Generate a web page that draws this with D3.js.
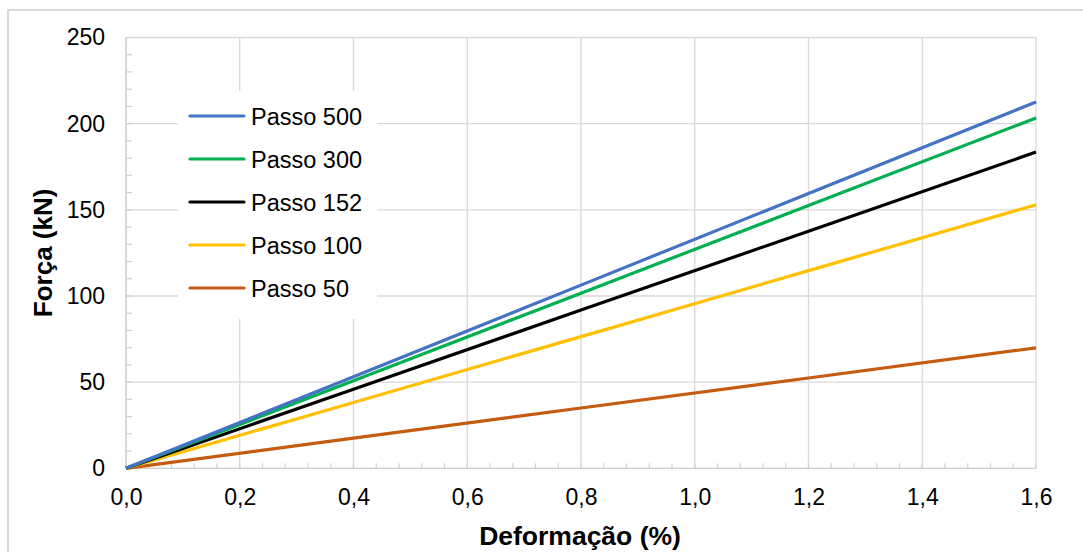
<!DOCTYPE html>
<html><head><meta charset="utf-8">
<script src="https://cdn.jsdelivr.net/npm/d3@7"></script>
<style>body{margin:0;background:#fff;} svg{display:block;font-family:"Liberation Sans",Arial,sans-serif;}</style>
</head><body>
<svg id="c" width="1083" height="552"></svg>
<script>
const deform = [0.0, 0.4, 0.8, 1.2, 1.6];
const passo500 = [0, 53.1, 106.3, 159.5, 212.6];
const passo300 = [0, 50.8, 101.6, 152.5, 203.3];
const passo152 = [0, 45.9, 91.8, 137.6, 183.5];
const passo100 = [0, 38.2, 76.4, 114.7, 152.9];
const passo50  = [0, 17.5, 35.0, 52.4, 69.9];
const seriesNames = ["Passo 500","Passo 300","Passo 152","Passo 100","Passo 50"];
const seriesColors = ["#4472C4","#00B050","#000000","#FFC000","#C55A11"];
const xTicks = [0,0.2,0.4,0.6,0.8,1.0,1.2,1.4,1.6];
const yTicks = [0,50,100,150,200,250];

const series = [passo500,passo300,passo152,passo100,passo50].map((v,i)=>({name:seriesNames[i],color:seriesColors[i],values:v}));

const svg = d3.select("#c");
const L=126,R=1036,T=37.5,B=468.3;
const x = d3.scaleLinear().domain([0,1.6]).range([L,R]);
const y = d3.scaleLinear().domain([0,250]).range([B,T]);

// outer border
svg.append("rect").attr("x",8).attr("y",10).attr("width",1090).attr("height",560)
  .attr("fill","none").attr("stroke","#D9D9D9").attr("stroke-width",2);

const grid = svg.append("g");
yTicks.forEach(t=>{
  grid.append("line").attr("x1",L).attr("x2",R).attr("y1",y(t)).attr("y2",y(t))
    .attr("stroke","#D9D9D9").attr("stroke-width",1.3);
});
xTicks.forEach(t=>{
  grid.append("line").attr("x1",x(t)).attr("x2",x(t)).attr("y1",T).attr("y2",B)
    .attr("stroke","#D9D9D9").attr("stroke-width",1.3);
});
d3.range(0,250,10).forEach(t=>{
  grid.append("line").attr("x1",L).attr("x2",L+6).attr("y1",y(t)).attr("y2",y(t))
    .attr("stroke","#D0D0D0").attr("stroke-width",1.2);
});
d3.range(0,1.6001,0.04).forEach(t=>{
  grid.append("line").attr("x1",x(t)).attr("x2",x(t)).attr("y1",B).attr("y2",B-5)
    .attr("stroke","#D0D0D0").attr("stroke-width",1.2);
});
svg.append("line").attr("x1",L).attr("x2",L).attr("y1",T).attr("y2",B).attr("stroke","#D0D0D0").attr("stroke-width",1.3);
svg.append("line").attr("x1",L).attr("x2",R).attr("y1",B).attr("y2",B).attr("stroke","#D0D0D0").attr("stroke-width",1.3);

const fmt = d=>d3.format(".1f")(d).replace(".",",");
const xa = svg.append("g").attr("transform",`translate(0,${B})`)
  .call(d3.axisBottom(x).tickValues(xTicks).tickFormat(fmt).tickSize(0).tickPadding(20));
const ya = svg.append("g").attr("transform",`translate(${L},0)`)
  .call(d3.axisLeft(y).tickValues(yTicks).tickSize(0).tickPadding(21));
[xa,ya].forEach(a=>{a.select(".domain").remove(); a.attr("font-size",23).attr("font-family","Liberation Sans, Arial, sans-serif"); a.selectAll("text").attr("fill","#000");});

// legend background
svg.append("rect").attr("x",178).attr("y",91).attr("width",199).attr("height",228).attr("fill","#fff");

const line = d3.line().x((d,i)=>x(deform[i])).y(d=>y(d));
series.slice().reverse().forEach(s=>{
  svg.append("path").attr("d",line(s.values)).attr("fill","none")
    .attr("stroke",s.color).attr("stroke-width",3.2).attr("stroke-linecap","butt");
});

const lg = svg.append("g");
series.forEach((s,i)=>{
  const yy = 116 + i*43;
  lg.append("line").attr("x1",190).attr("x2",244).attr("y1",yy).attr("y2",yy)
    .attr("stroke",s.color).attr("stroke-width",3.2).attr("stroke-linecap","round");
  lg.append("text").attr("x",251).attr("y",yy+8.5).attr("font-size",23.5).attr("fill","#000").text(s.name);
});

svg.append("text").attr("x",580).attr("y",545).attr("text-anchor","middle")
  .attr("font-size",26.5).attr("font-weight","bold").attr("fill","#000").text("Deformação (%)");
svg.append("text").attr("transform",`translate(52,${(T+B)/2}) rotate(-90)`).attr("text-anchor","middle")
  .attr("font-size",26).attr("font-weight","bold").attr("fill","#000").text("Força (kN)");
</script>
</body></html>
